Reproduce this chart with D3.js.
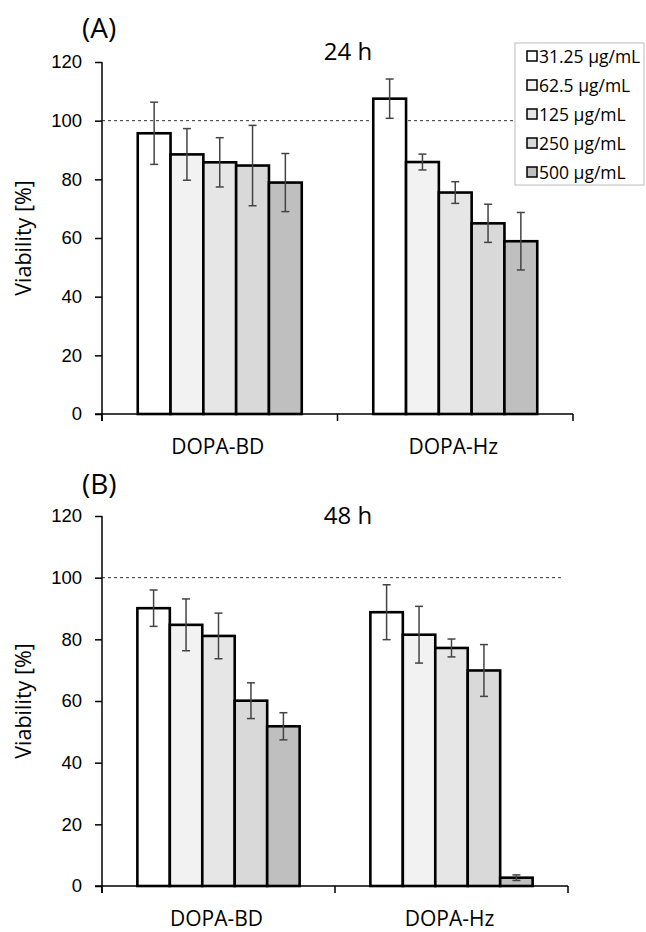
<!DOCTYPE html>
<html lang="en">
<head>
<meta charset="UTF-8">
<title>Viability 24 h / 48 h</title>
<script src="https://cdn.jsdelivr.net/npm/d3@7"></script>
<style>
    body { margin: 0; background: #fff; }
    svg { font-family: "Open Sans", sans-serif; }
    .bar { stroke: #000; stroke-width: 2.6; }
    .err { stroke: #444; stroke-width: 1.5; fill: none; }
    .ref { stroke: #333; stroke-width: 1; stroke-dasharray: 3,3; }
    .axis path, .axis line { stroke: #000; stroke-width: 1.5; }
    .axis text { font-size: 18.5px; fill: #000; }
</style>
</head>
<body>
<svg id="chart" width="646" height="932"></svg>
<script>
    const categories = ["DOPA-BD", "DOPA-Hz"];
    const concentrations = ["31.25 µg/mL", "62.5 µg/mL", "125 µg/mL", "250 µg/mL", "500 µg/mL"];
    const yTicks = [0, 20, 40, 60, 80, 100, 120];

    // mean viability per category (rows) and concentration (columns)
    const viab24 = [[95.7, 88.5, 85.8, 84.7, 78.9], [107.5, 85.9, 75.5, 65.0, 58.9]];
    const err24 = [[10.6, 8.8, 8.4, 13.7, 9.9], [6.7, 2.7, 3.7, 6.5, 9.8]];
    const viab48 = [[90.1, 84.7, 81.1, 60.1, 51.8], [88.8, 81.5, 77.2, 69.9, 2.7]];
    const err48 = [[5.9, 8.4, 7.4, 5.8, 4.4], [8.9, 9.2, 2.9, 8.4, 0.9]];

    const fills = ["#ffffff", "#f2f2f2", "#e6e6e6", "#d9d9d9", "#bfbfbf"];
    const svg = d3.select("#chart");

    function panel(cfg) {
        const g = svg.append("g");
        const x0 = d3.scaleBand().domain(categories).range([cfg.left, cfg.right]);
        const x1 = d3.scaleBand().domain(concentrations).range([0, x0.bandwidth()]).paddingOuter(1.09);
        const y = d3.scaleLinear().domain([0, 120]).range([cfg.bottom, cfg.top]);

        // 100 % reference
        g.append("line").attr("class", "ref")
            .attr("x1", cfg.left).attr("x2", cfg.refEnd)
            .attr("y1", y(100)).attr("y2", y(100));

        const rows = [];
        categories.forEach((c, i) => concentrations.forEach((s, j) => {
            rows.push({ c: c, s: s, j: j, v: cfg.vals[i][j], e: cfg.errs[i][j] });
        }));

        g.selectAll("rect.bar").data(rows).enter().append("rect")
            .attr("class", "bar")
            .attr("x", d => x0(d.c) + x1(d.s))
            .attr("width", x1.bandwidth())
            .attr("y", d => y(d.v))
            .attr("height", d => y(0) - y(d.v))
            .style("fill", d => fills[d.j]);

        const eg = g.selectAll("g.errbar").data(rows).enter().append("g");
        const cx = d => x0(d.c) + x1(d.s) + x1.bandwidth() / 2;
        eg.append("line").attr("class", "err")
            .attr("x1", cx).attr("x2", cx)
            .attr("y1", d => y(d.v + d.e)).attr("y2", d => y(d.v - d.e));
        [1, -1].forEach(sg => {
            eg.append("line").attr("class", "err")
                .attr("x1", d => cx(d) - 4).attr("x2", d => cx(d) + 4)
                .attr("y1", d => y(d.v + sg * d.e)).attr("y2", d => y(d.v + sg * d.e));
        });

        // axes
        const ya = g.append("g").attr("class", "axis")
            .attr("transform", `translate(${cfg.left},0)`)
            .call(d3.axisLeft(y).tickValues(yTicks).tickSize(7).tickPadding(13).tickSizeOuter(0));
        ya.select(".domain").attr("d", `M0,${y(120)}V${y(0) + 7}`);
        ya.selectAll(".tick line").attr("x1", -7).attr("x2", 0);

        const xa = g.append("g").attr("class", "axis")
            .attr("transform", `translate(0,${cfg.bottom})`);
        xa.append("line").attr("x1", cfg.left - 7).attr("x2", cfg.right).attr("y1", 0).attr("y2", 0);
        [cfg.left, x0(categories[1]), cfg.right].forEach(px => {
            xa.append("line").attr("x1", px).attr("x2", px).attr("y1", 0).attr("y2", 7);
        });
        xa.selectAll("text.cat").data(categories).enter().append("text")
            .attr("x", d => x0(d) + x0.bandwidth() / 2 - 2)
            .attr("y", 40)
            .attr("text-anchor", "middle")
            .style("font-size", "21px")
            .text(d => d);

        g.append("text")
            .attr("transform", `translate(31,${(cfg.top + cfg.bottom) / 2}) rotate(-90)`)
            .attr("text-anchor", "middle")
            .style("font-size", "21.5px")
            .text("Viability [%]");

        g.append("text").attr("x", 82).attr("y", cfg.tagY)
            .style("font-size", "28px").text(cfg.tag);
        g.append("text").attr("x", 348).attr("y", cfg.titleY)
            .attr("text-anchor", "middle")
            .style("font-size", "24px").text(cfg.title);
    }

    panel({ left: 102, right: 573, top: 62, bottom: 414, refEnd: 573,
            vals: viab24, errs: err24, tag: "(A)", tagY: 38, title: "24 h", titleY: 60 });
    panel({ left: 102, right: 568, top: 516, bottom: 886, refEnd: 564,
            vals: viab48, errs: err48, tag: "(B)", tagY: 494, title: "48 h", titleY: 524 });

    // legend
    const lg = svg.append("g");
    lg.append("rect").attr("x", 515).attr("y", 43).attr("width", 129).attr("height", 142)
        .style("fill", "#fff").style("stroke", "#bbb").style("stroke-width", 1);
    const li = lg.selectAll("g.item").data(concentrations).enter().append("g")
        .attr("transform", (d, i) => `translate(527,${56 + i * 29})`);
    li.append("rect").attr("x", 0).attr("y", -5).attr("width", 10).attr("height", 10)
        .style("fill", (d, i) => fills[i]).style("stroke", "#000").style("stroke-width", 1.5);
    li.append("text").attr("x", 12).attr("y", 6.5)
        .style("font-size", "17.5px").text(d => d);
</script>
</body>
</html>
